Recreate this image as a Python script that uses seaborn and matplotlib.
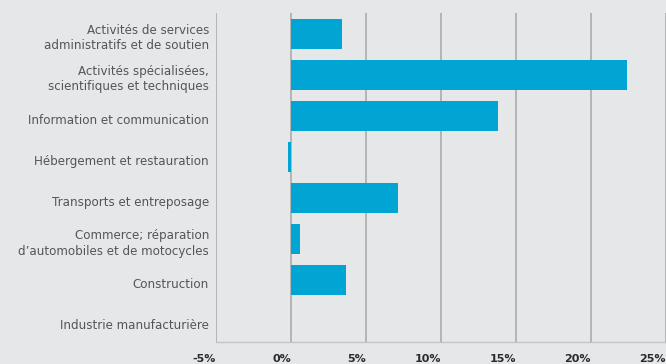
import matplotlib
matplotlib.use("Agg")
import matplotlib.pyplot as plt
import matplotlib.transforms as mtransforms
import seaborn as sns
import pandas as pd

categories = [
    "Activités de services\nadministratifs et de soutien",
    "Activités spécialisées,\nscientifiques et techniques",
    "Information et communication",
    "Hébergement et restauration",
    "Transports et entreposage",
    "Commerce; réparation\nd’automobiles et de motocycles",
    "Construction",
    "Industrie manufacturière",
]
values = [3.4, 22.45, 13.8, -0.2, 7.15, 0.6, 3.65, 0.0]
x_ticks = [-5, 0, 5, 10, 15, 20, 25]
x_tick_labels = ["-5%", "0%", "5%", "10%", "15%", "20%", "25%"]

df = pd.DataFrame({"cat": categories, "val": values})

bg = "#e6e7e8"
sns.set_theme(style="white")
plt.rcParams["font.family"] = ["DejaVu Sans"]

fig = plt.figure(figsize=(6.66, 3.64), dpi=100, facecolor=bg)
ax = fig.add_axes([216/666, 1 - 342/364, 1 - 216/666 - 0.0005, (342 - 13)/364])
ax.set_facecolor(bg)

sns.barplot(data=df, x="val", y="cat", orient="h", color="#00a5d3",
            saturation=1, width=0.73, ax=ax, zorder=3, linewidth=0, edgecolor="none")

ax.set_xlim(-5, 25)
ax.set_ylim(7.5, -0.5)
ax.set_xticks(x_ticks)
ax.set_xticklabels(x_tick_labels, fontsize=8, fontweight="bold", color="#2a2a2a", ha="right")
ax.tick_params(axis="x", length=0, pad=9)
ax.tick_params(axis="y", length=0, pad=5, labelsize=8.6, labelcolor="#555555")
for lbl in ax.get_yticklabels():
    two = "\n" in lbl.get_text()
    dy = -1.5 if two else -3
    lbl.set_multialignment("right")
    lbl.set_linespacing(1.25)
    lbl.set_transform(lbl.get_transform() +
                      mtransforms.ScaledTranslation(0, dy/100, fig.dpi_scale_trans))

for x in x_ticks:
    ax.axvline(x, color="#b4b4b4", lw=1.4, zorder=1)
ax.set_xlabel("")
ax.set_ylabel("")
for s in ["top", "right", "left"]:
    ax.spines[s].set_visible(False)
ax.spines["bottom"].set_color("#c4c4c4")
ax.spines["bottom"].set_linewidth(1)

fig.savefig("out.png", dpi=100, facecolor=bg)
